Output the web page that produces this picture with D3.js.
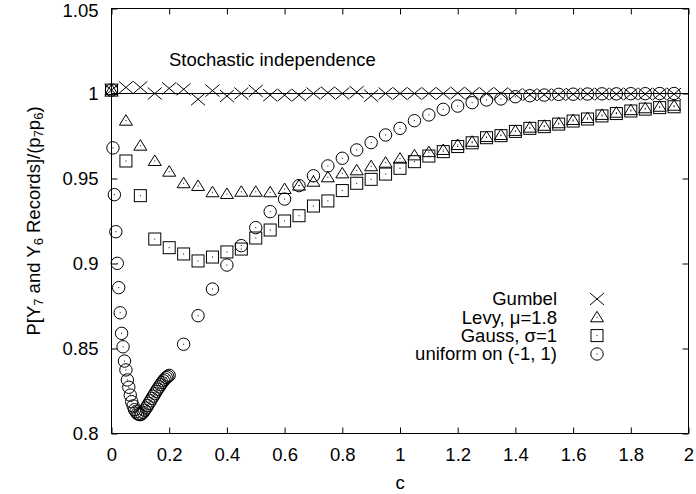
<!DOCTYPE html>
<html>
<head>
<meta charset="utf-8">
<script src="https://cdn.jsdelivr.net/npm/d3@7"></script>
<style>
  body { margin: 0; background: #fff; }
  text { font-family: "Liberation Sans", Arial, Helvetica, sans-serif; font-size: 18.5px; fill: #000; }
</style>
</head>
<body>
<div id="chart"></div>
<script>
// c values shared by Gumbel, Levy and Gauss
const cMain = [0, 0.05, 0.1, 0.15, 0.2, 0.25, 0.3, 0.35, 0.4, 0.45,
    0.5, 0.55, 0.6, 0.65, 0.7, 0.75, 0.8, 0.85, 0.9, 0.95,
    1.0, 1.05, 1.1, 1.15, 1.2, 1.25, 1.3, 1.35, 1.4, 1.45,
    1.5, 1.55, 1.6, 1.65, 1.7, 1.75, 1.8, 1.85, 1.9, 1.95];

const gumbelVals = [1.002, 1.0036, 1.0036, 1.0, 1.003, 1.0025, 0.9966, 1.0017, 0.9985, 1.0,
    1.0015, 0.999, 0.999, 0.999, 1.0, 1.0005, 1.0, 1.0008, 0.9987, 1.0,
    1.0, 1.0, 1.0, 1.0, 1.0003, 1.0, 1.0, 1.0, 0.9995, 0.9993,
    0.9993, 0.9993, 0.9996, 0.9997, 0.9997, 0.9997, 0.9997, 0.9997, 0.9997, 0.9997];

const levyVals = [1.002, 0.984, 0.9693, 0.9603, 0.954, 0.9472, 0.9456, 0.9419, 0.9409, 0.9422,
    0.9422, 0.9419, 0.9438, 0.9458, 0.9481, 0.9507, 0.953, 0.9548, 0.9572, 0.9593,
    0.9617, 0.9636, 0.9655, 0.9668, 0.9697, 0.9716, 0.9744, 0.9756, 0.978, 0.9799,
    0.981, 0.9825, 0.9844, 0.9856, 0.9874, 0.9887, 0.9902, 0.9913, 0.9922, 0.9928];

const gaussVals = [1.002, 0.9603, 0.9399, 0.9144, 0.9093, 0.9056, 0.9015, 0.9038, 0.9068, 0.9085,
    0.915, 0.9197, 0.925, 0.9281, 0.9338, 0.9368, 0.9429, 0.9472, 0.9495, 0.9526,
    0.956, 0.9599, 0.9632, 0.9658, 0.9688, 0.971, 0.974, 0.9752, 0.9777, 0.9795,
    0.9805, 0.982, 0.9838, 0.985, 0.9868, 0.9882, 0.9897, 0.9908, 0.9917, 0.9922];

// uniform distribution is sampled more finely near c = 0
const cUniform = [0, 0.005, 0.01, 0.015, 0.02, 0.025, 0.03, 0.035, 0.04, 0.045,
    0.05, 0.055, 0.06, 0.065, 0.07, 0.075, 0.08, 0.085, 0.09, 0.095,
    0.1, 0.105, 0.11, 0.115, 0.12, 0.125, 0.13, 0.135, 0.14, 0.145,
    0.15, 0.155, 0.16, 0.165, 0.17, 0.175, 0.18, 0.185, 0.19, 0.195, 0.2,
    0.25, 0.3, 0.35, 0.4, 0.45, 0.5, 0.55, 0.6, 0.65, 0.7, 0.75, 0.8, 0.85, 0.9, 0.95,
    1.0, 1.05, 1.1, 1.15, 1.2, 1.25, 1.3, 1.35, 1.4, 1.45,
    1.5, 1.55, 1.6, 1.65, 1.7, 1.75, 1.8, 1.85, 1.9, 1.95];

const uniformVals = [1.002, 0.968, 0.9405, 0.9187, 0.9001, 0.8858, 0.871, 0.8589, 0.851, 0.8426,
    0.8374, 0.8315, 0.8272, 0.8226, 0.8187, 0.8162, 0.814, 0.8128, 0.8117, 0.8112,
    0.8111, 0.8116, 0.8125, 0.8137, 0.815, 0.8164, 0.8178, 0.8192, 0.8206, 0.822,
    0.8234, 0.8248, 0.8261, 0.8274, 0.8287, 0.8299, 0.831, 0.832, 0.8329, 0.8336, 0.8342,
    0.8525, 0.8693, 0.885, 0.8991, 0.9105, 0.9211, 0.9305, 0.9379, 0.9458, 0.9516, 0.9574, 0.9619, 0.9668, 0.9711, 0.9756,
    0.9795, 0.984, 0.9874, 0.9907, 0.9926, 0.9946, 0.9962, 0.9968, 0.9981, 0.9987,
    0.9991, 0.9995, 0.9996, 0.9997, 0.9998, 0.9998, 0.9999, 0.9999, 1.0, 1.0];

const xTicks = [0, 0.2, 0.4, 0.6, 0.8, 1, 1.2, 1.4, 1.6, 1.8, 2];
const xTickLabels = ["0", "0.2", "0.4", "0.6", "0.8", "1", "1.2", "1.4", "1.6", "1.8", "2"];
const yTicks = [0.8, 0.85, 0.9, 0.95, 1, 1.05];
const yTickLabels = ["0.8", "0.85", "0.9", "0.95", "1", "1.05"];

const seriesNames = ["Gumbel", "Levy, \u03bc=1.8", "Gauss, \u03c3=1", "uniform on (-1, 1)"];
const seriesShapes = ["cross", "triangle", "square", "circle"];

const W = 696, H = 494;
const plotLeft = 111.5, plotRight = 688.5, plotTop = 8.5, plotBottom = 433.5;

const svg = d3.select("#chart").append("svg")
    .attr("width", W)
    .attr("height", H);

const x = d3.scaleLinear().domain([0, 2]).range([plotLeft, plotRight]);
const y = d3.scaleLinear().domain([0.8, 1.05]).range([plotBottom, plotTop]);

// draw one gnuplot-style point symbol
function drawSymbol(g, shape, px, py) {
    const s = g.append("g").attr("transform", `translate(${px},${py})`)
        .attr("fill", "none").attr("stroke", "#000").attr("stroke-width", 1);
    if (shape === "cross") {
        s.append("path").attr("d", "M-7,-6L7,6M-7,6L7,-6");
        return;
    }
    if (shape === "triangle") {
        s.append("path").attr("d", "M0,-6L6.5,4.5L-6.5,4.5Z");
    } else if (shape === "square") {
        s.append("rect").attr("x", -6).attr("y", -6).attr("width", 12).attr("height", 12);
    } else {
        s.append("circle").attr("r", 6.2);
    }
    s.append("rect").attr("x", -0.5).attr("y", -0.5).attr("width", 1).attr("height", 1)
        .attr("fill", "#000").attr("stroke", "none");
}

// frame
svg.append("rect")
    .attr("x", plotLeft).attr("y", plotTop)
    .attr("width", plotRight - plotLeft).attr("height", plotBottom - plotTop)
    .attr("fill", "none").attr("stroke", "#000").attr("stroke-width", 1);

// x ticks (inward, mirrored on top)
const xAxisBottom = svg.append("g")
    .attr("transform", `translate(0,${plotBottom})`)
    .call(d3.axisBottom(x).tickValues(xTicks).tickSize(-6).tickPadding(14)
        .tickFormat((d, i) => xTickLabels[i]));
const xAxisTop = svg.append("g")
    .attr("transform", `translate(0,${plotTop})`)
    .call(d3.axisTop(x).tickValues(xTicks).tickSize(-6).tickFormat(""));

// y ticks (inward, mirrored on right)
const yAxisLeft = svg.append("g")
    .attr("transform", `translate(${plotLeft},0)`)
    .call(d3.axisLeft(y).tickValues(yTicks).tickSize(-6).tickPadding(13)
        .tickFormat((d, i) => yTickLabels[i]));
const yAxisRight = svg.append("g")
    .attr("transform", `translate(${plotRight},0)`)
    .call(d3.axisRight(y).tickValues(yTicks).tickSize(-6).tickFormat(""));

[xAxisBottom, xAxisTop, yAxisLeft, yAxisRight].forEach(a => {
    a.select(".domain").remove();
    a.selectAll("line").attr("stroke", "#000");
    a.selectAll("text")
        .style("font-family", "'Liberation Sans', Arial, Helvetica, sans-serif")
        .style("font-size", "18.5px")
        .attr("fill", "#000");
});
// keep the top label inside the page
yAxisLeft.selectAll(".tick text").filter((d, i) => i === yTicks.length - 1).attr("dy", "0.42em");

// line at 1
svg.append("line")
    .attr("x1", plotLeft).attr("x2", plotRight)
    .attr("y1", y(1)).attr("y2", y(1))
    .attr("stroke", "#000").attr("stroke-width", 1);

svg.append("text")
    .attr("x", 169).attr("y", 60).attr("dy", "0.35em")
    .text("Stochastic independence");

// points
const series = [
    { c: cMain, v: gumbelVals },
    { c: cMain, v: levyVals },
    { c: cMain, v: gaussVals },
    { c: cUniform, v: uniformVals }
];
const pts = svg.append("g");
series.forEach((s, k) => {
    s.c.forEach((cv, i) => drawSymbol(pts, seriesShapes[k], x(cv), y(s.v[i])));
});

// legend
const legY = [299, 317.3, 335.6, 354];
seriesNames.forEach((name, k) => {
    svg.append("text")
        .attr("x", 557).attr("y", legY[k]).attr("dy", "0.35em")
        .attr("text-anchor", "end")
        .text(name);
    drawSymbol(svg, seriesShapes[k], 597, legY[k]);
});

// axis titles
svg.append("text")
    .attr("x", (plotLeft + plotRight) / 2).attr("y", 483).attr("dy", "0.35em")
    .attr("text-anchor", "middle")
    .text("c");

const yTitle = svg.append("text")
    .attr("transform", `translate(34,${(plotTop + plotBottom) / 2}) rotate(-90)`)
    .attr("text-anchor", "middle")
    .attr("dy", "0.35em");
const parts = [["P[Y", 0], ["7", 1], [" and Y", 0], ["6", 1], [" Records]/(p", 0], ["7", 1], ["p", 0], ["6", 1], [")", 0]];
parts.forEach(([t, sub]) => {
    const ts = yTitle.append("tspan").text(t);
    if (sub) ts.attr("baseline-shift", "-25%").style("font-size", "13px");
});
</script>
</body>
</html>
